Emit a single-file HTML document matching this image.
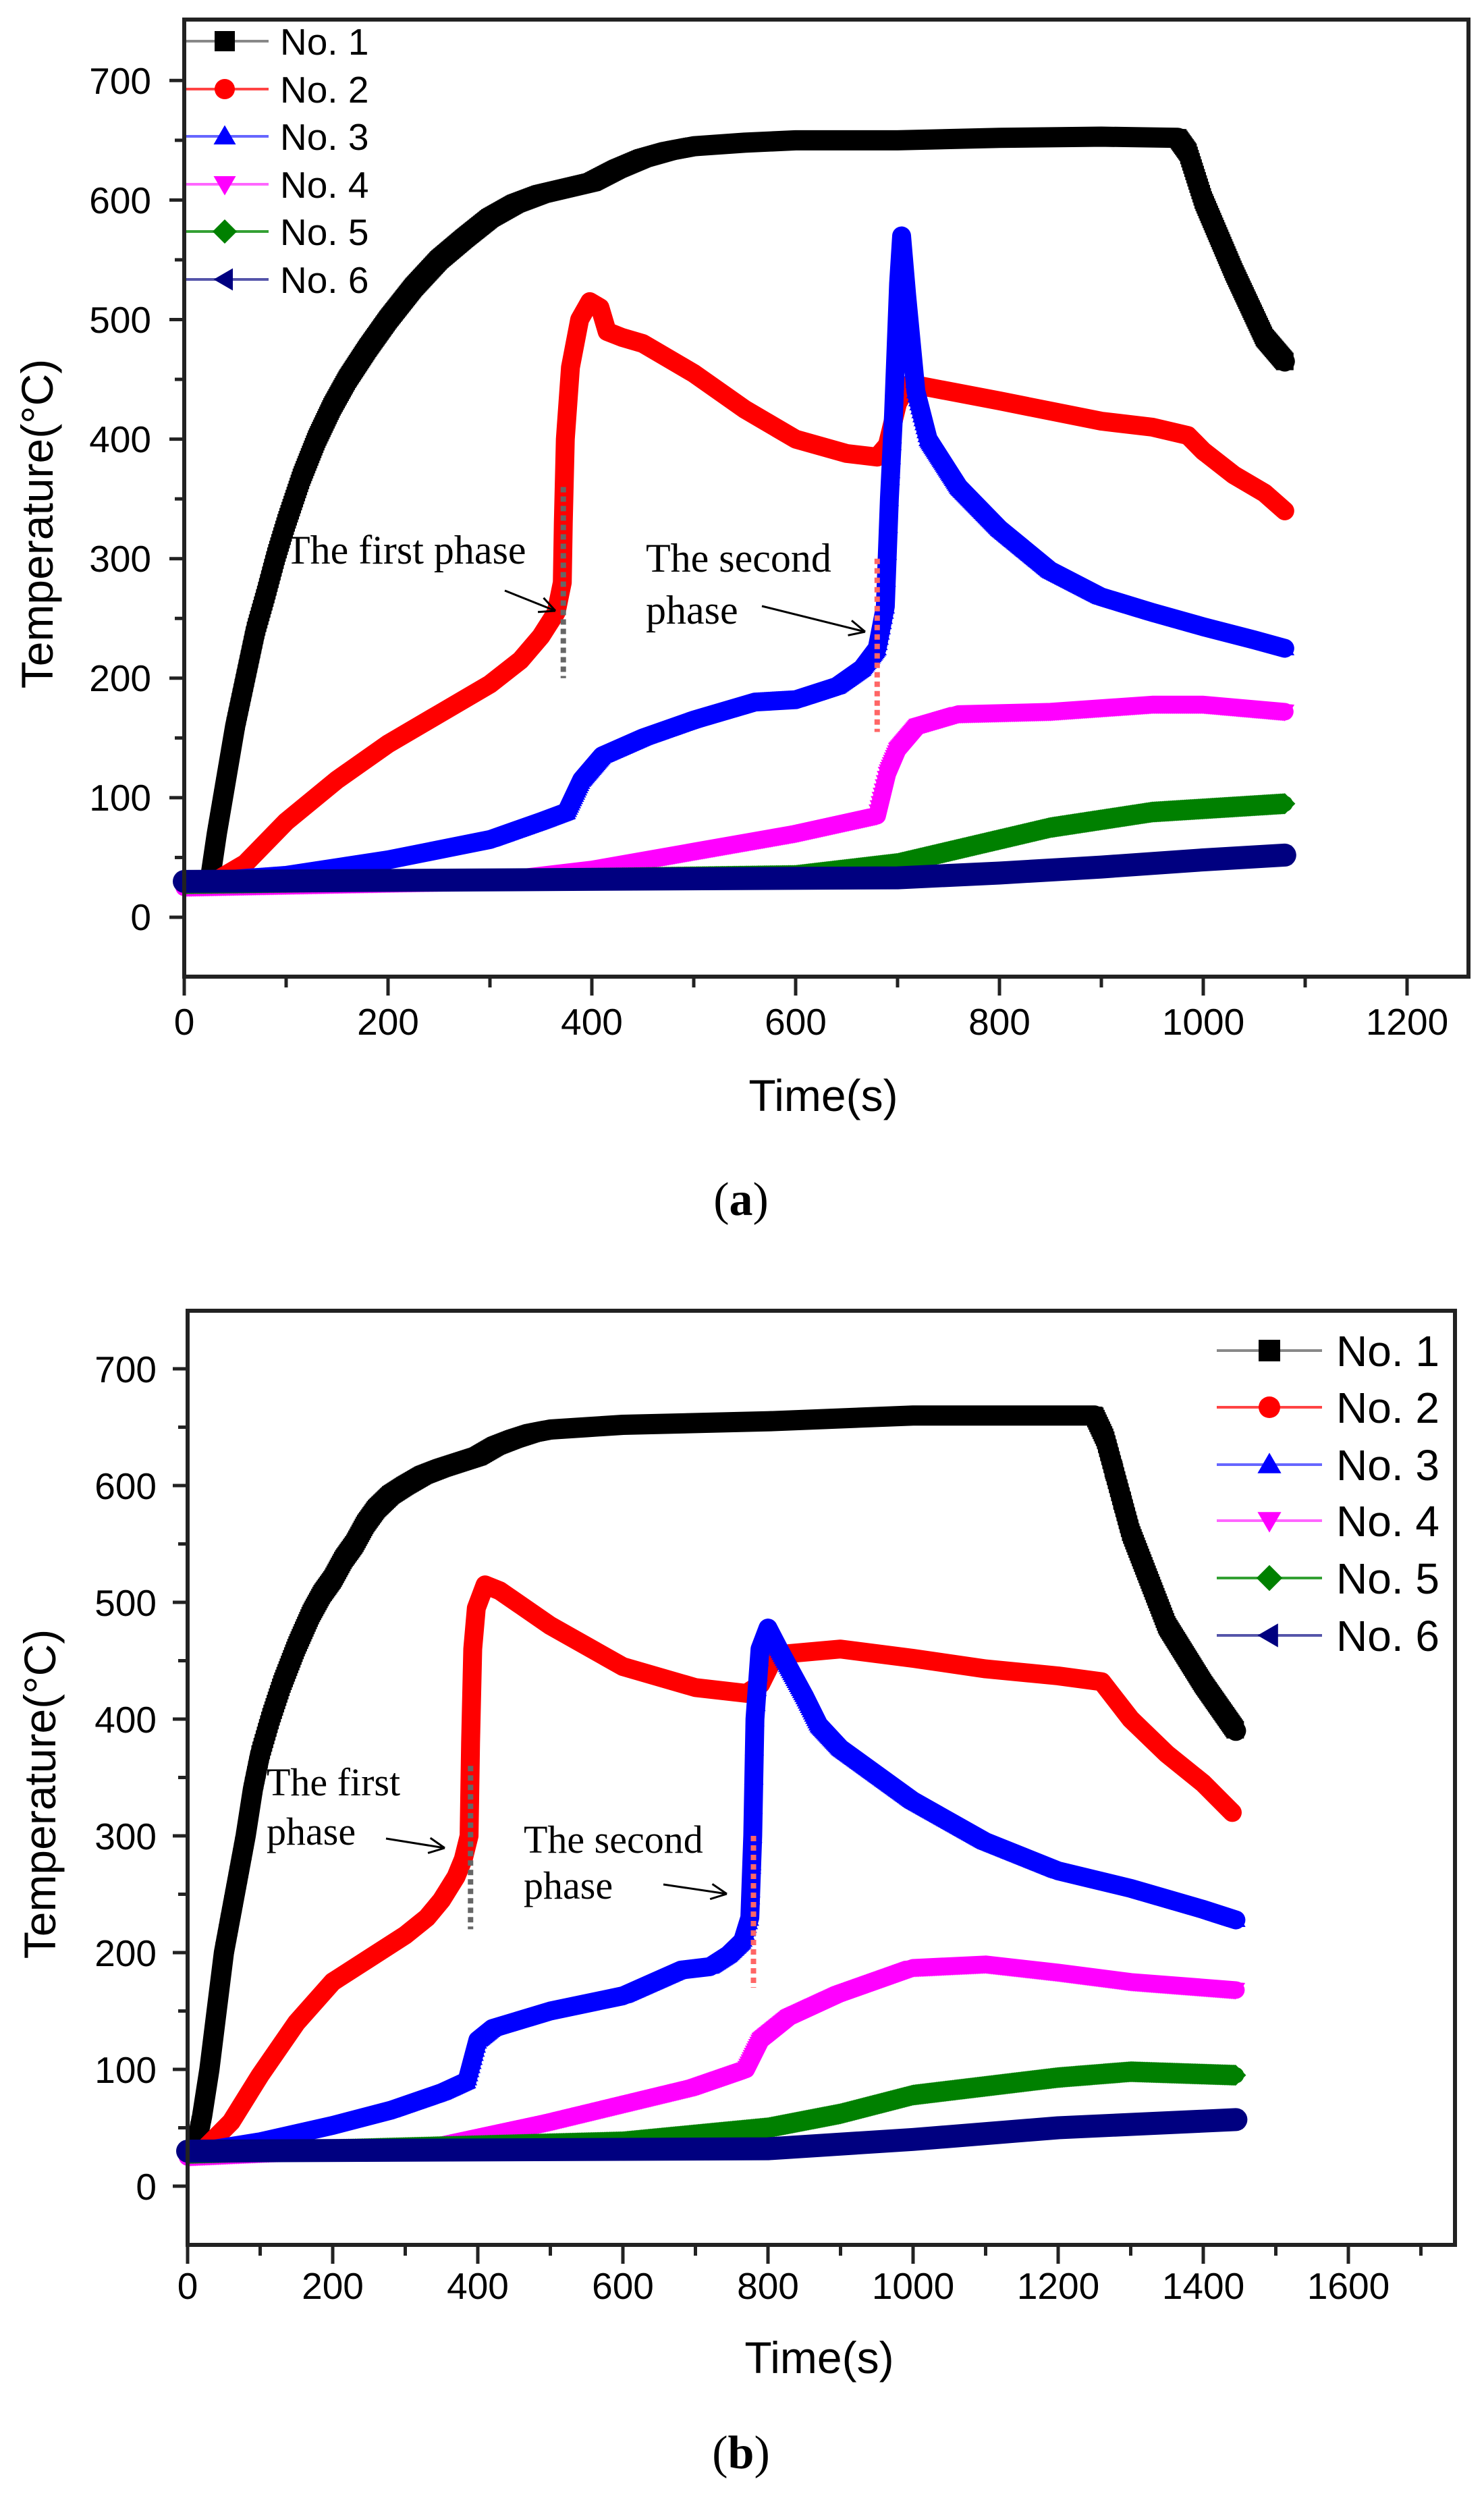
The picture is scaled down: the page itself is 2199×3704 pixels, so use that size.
<!DOCTYPE html>
<html><head><meta charset="utf-8">
<style>
html,body{margin:0;padding:0;background:#fff;}
svg{display:block;}
text{font-family:"Liberation Sans",Arial,sans-serif;fill:#000;}
.ser{font-family:"Liberation Serif","Times New Roman",serif;}
</style></head>
<body>
<svg id="s" width="2199" height="3704" viewBox="0 0 2199 3704" xmlns="http://www.w3.org/2000/svg">
<g id="plots"></g>
<rect x="273" y="29" width="1903" height="1418" fill="none" stroke="#222" stroke-width="6"/>
<g id="ta"></g>
<g font-size="55" text-anchor="end">
<text x="224" y="139">700</text><text x="224" y="316">600</text><text x="224" y="493">500</text>
<text x="224" y="670">400</text><text x="224" y="847">300</text><text x="224" y="1024">200</text>
<text x="224" y="1201">100</text><text x="224" y="1378">0</text>
</g>
<g font-size="55" text-anchor="middle">
<text x="273" y="1533">0</text><text x="575" y="1533">200</text><text x="877" y="1533">400</text>
<text x="1179" y="1533">600</text><text x="1481" y="1533">800</text><text x="1783" y="1533">1000</text>
<text x="2085" y="1533">1200</text>
</g>
<text x="1220" y="1646" font-size="66" text-anchor="middle">Time(s)</text>
<text transform="translate(78,776) rotate(-90)" font-size="66" text-anchor="middle">Temperature(°C)</text>
<text class="ser" x="1098" y="1800" font-size="70" text-anchor="middle">(<tspan font-weight="bold">a</tspan>)</text>
<g font-size="55">
<text x="415" y="81">No. 1</text><text x="415" y="152">No. 2</text><text x="415" y="222">No. 3</text>
<text x="415" y="293">No. 4</text><text x="415" y="363">No. 5</text><text x="415" y="434">No. 6</text>
</g>
<g class="ser" font-size="60">
<text class="ser" x="423" y="835">The  first phase</text>
<text class="ser" x="957" y="847">The  second</text>
<text class="ser" x="957" y="924">phase</text>
</g>

<rect x="278" y="1942" width="1878" height="1384" fill="none" stroke="#222" stroke-width="6"/>
<g id="tb"></g>
<g font-size="55" text-anchor="end">
<text x="232" y="2048">700</text><text x="232" y="2221">600</text><text x="232" y="2394">500</text>
<text x="232" y="2567">400</text><text x="232" y="2740">300</text><text x="232" y="2913">200</text>
<text x="232" y="3086">100</text><text x="232" y="3259">0</text>
</g>
<g font-size="55" text-anchor="middle">
<text x="278" y="3406">0</text><text x="493" y="3406">200</text><text x="708" y="3406">400</text>
<text x="923" y="3406">600</text><text x="1138" y="3406">800</text><text x="1353" y="3406">1000</text>
<text x="1568" y="3406">1200</text><text x="1783" y="3406">1400</text><text x="1998" y="3406">1600</text>
</g>
<text x="1214" y="3516" font-size="66" text-anchor="middle">Time(s)</text>
<text transform="translate(82,2658) rotate(-90)" font-size="66" text-anchor="middle">Temperature(°C)</text>
<text class="ser" x="1098" y="3657" font-size="70" text-anchor="middle">(<tspan font-weight="bold">b</tspan>)</text>
<g font-size="64">
<text x="1980" y="2024">No. 1</text><text x="1980" y="2108">No. 2</text><text x="1980" y="2193">No. 3</text>
<text x="1980" y="2276">No. 4</text><text x="1980" y="2361">No. 5</text><text x="1980" y="2446">No. 6</text>
</g>
<text class="ser" x="395" y="2660" font-size="58">The  first</text>
<text class="ser" x="395" y="2733" font-size="58">phase</text>
<text class="ser" x="776" y="2745" font-size="58">The  second</text>
<text class="ser" x="776" y="2813" font-size="58">phase</text>
</svg>
<script>
(function(){
var NS="http://www.w3.org/2000/svg";
var plots=document.getElementById('plots');
function el(tag,attrs,parent){var e=document.createElementNS(NS,tag);for(var k in attrs)e.setAttribute(k,attrs[k]);(parent||plots).appendChild(e);return e;}
var cols=["#000000","#ff0000","#0000ff","#ff00ff","#008000","#000080"];
var lcols=["#888888","#ff4444","#6666ff","#ff66ff","#33a033","#5555aa"];
function marker(type,x,y,s,c,g){
 var h=s/2,p;
 if(type==0)return el('rect',{x:x-h,y:y-h,width:s,height:s,fill:c},g);
 if(type==1)return el('circle',{cx:x,cy:y,r:h,fill:c},g);
 if(type==2)p=[[x,y-h*1.1],[x+h*1.1,y+h*0.8],[x-h*1.1,y+h*0.8]];
 if(type==3)p=[[x,y+h*1.1],[x+h*1.1,y-h*0.8],[x-h*1.1,y-h*0.8]];
 if(type==4)p=[[x,y-h*1.2],[x+h*1.2,y],[x,y+h*1.2],[x-h*1.2,y]];
 if(type==5)p=[[x-h*1.1,y],[x+h*0.8,y-h*1.1],[x+h*0.8,y+h*1.1]];
 return el('polygon',{points:p.map(function(q){return q.join(',')}).join(' '),fill:c},g);
}
function interp(d,t){for(var i=0;i<d.length-1;i++){if(t>=d[i][0]&&t<=d[i+1][0]){var f=(t-d[i][0])/((d[i+1][0]-d[i][0])||1);return d[i][1]+f*(d[i+1][1]-d[i][1]);}}return null;}
function chart(cfg){
 var g=el('g',{});
 function X(t){return cfg.x0+t*cfg.sx;} function Y(T){return cfg.y0-T*cfg.sy;}
 cfg.series.forEach(function(d,i){
  var pts=d.map(function(p){return X(p[0]).toFixed(1)+','+Y(p[1]).toFixed(1)}).join(' ');
  el('polyline',{points:pts,fill:'none',stroke:cols[i],'stroke-width':cfg.w[i],'stroke-linejoin':'round','stroke-linecap':'round'},g);
  var t0=d[0][0],t1=d[d.length-1][0];
  for(var t=t0;t<=t1;t+=cfg.dt){var v=interp(d,t);if(v!==null)marker(i,X(t),Y(v),cfg.ms,cols[i],g);}
  for(var k=0;k<d.length-1;k++){
   var dy=Math.abs(Y(d[k+1][1])-Y(d[k][1]));var dx=Math.abs(X(d[k+1][0])-X(d[k][0]));
   if(dy>dx*3){var n=Math.floor(dy/(cfg.ms*1.5));for(var j=1;j<n;j++){var f=j/n;marker(i,X(d[k][0]+f*(d[k+1][0]-d[k][0])),Y(d[k][1]+f*(d[k+1][1]-d[k][1])),cfg.ms,cols[i],g);}}
  }
 });
 cfg.dots.forEach(function(v){el('line',{x1:X(v[0]),x2:X(v[0]),y1:Y(v[1]),y2:Y(v[2]),stroke:v[3],'stroke-width':8,'stroke-dasharray':'8,6'},g);});
 cfg.arrows.forEach(function(a){
  el('line',{x1:a[0],y1:a[1],x2:a[2],y2:a[3],stroke:'#000','stroke-width':3},g);
  var ang=Math.atan2(a[3]-a[1],a[2]-a[0]),L=26;
  [0.45,-0.45].forEach(function(o){el('line',{x1:a[2],y1:a[3],x2:a[2]-L*Math.cos(ang+o),y2:a[3]-L*Math.sin(ang+o),stroke:'#000','stroke-width':3},g);});
 });
 var tg=document.getElementById(cfg.tick);
 for(var v=-50;v<=750;v+=50){var y=Y(v);if(y<cfg.top+4||y>cfg.bot-4)continue;var L=(v%100==0)?22:14;
   el('line',{x1:cfg.x0-L,x2:cfg.x0,y1:y,y2:y,stroke:'#222','stroke-width':5},tg);}
 for(var t=0;t<=cfg.tmax;t+=100){var x=X(t);if(x>cfg.right)continue;var L=(t%200==0)?28:16;
   el('line',{x1:x,x2:x,y1:cfg.bot,y2:cfg.bot+L,stroke:'#222','stroke-width':5},tg);}
 cfg.leg.ys.forEach(function(y,i){
  el('line',{x1:cfg.leg.x1,x2:cfg.leg.x2,y1:y,y2:y,stroke:lcols[i],'stroke-width':4},g);
  marker(i,cfg.leg.xm,y,cfg.leg.ms,cols[i],g);
 });
}
chart({x0:273,sx:1.51,y0:1359,sy:1.771,top:29,bot:1447,right:2176,tmax:1300,dt:1,ms:26,
 w:[30,28,28,26,24,34],tick:'ta',
 series:[
 [[25,30],[32,70],[40,110],[50,160],[60,200],[70,240],[80,270],[90,302],[100,330],[115,368],[130,400],[145,427],[160,450],[180,476],[200,500],[225,527],[250,550],[275,568],[300,585],[325,597],[350,605],[375,610],[400,615],[425,626],[450,635],[475,641],[500,645],[550,648],[600,650],[700,650],[800,652],[900,653],[975,652],[985,640],[1000,600],[1030,540],[1060,485],[1080,465]],
 [[30,30],[60,45],[100,80],[150,115],[200,145],[250,170],[300,195],[330,215],[350,235],[365,255],[371,280],[372,330],[374,400],[379,460],[388,500],[398,515],[408,510],[415,490],[430,485],[450,480],[500,455],[550,425],[600,400],[650,388],[680,385],[690,395],[700,430],[710,445],[720,445],[800,432],[900,415],[950,410],[985,403],[1000,390],[1030,370],[1060,355],[1080,340]],
 [[20,30],[100,35],[200,48],[300,65],[350,80],[375,88],[390,115],[410,135],[450,150],[500,165],[560,180],[600,182],[640,193],[665,208],[680,225],[688,260],[692,350],[696,420],[701,530],[704,570],[709,520],[718,440],[730,400],[760,360],[800,325],[850,290],[900,268],[950,255],[1000,243],[1050,232],[1080,225]],
 [[0,25],[300,30],[400,40],[500,55],[600,70],[680,85],[690,120],[700,140],[720,160],[760,170],[850,172],[950,178],[1000,178],[1080,172]],
 [[0,28],[600,35],[700,45],[750,55],[850,75],[950,88],[1080,95]],
 [[0,30],[700,33],[800,37],[900,42],[1000,48],[1080,52]]],
 dots:[[372,360,200,'#666'],[680,300,155,'#ff6666']],
 arrows:[[748,875,823,905],[1129,898,1282,936]],
 leg:{x1:276,x2:398,xm:333,ms:30,ys:[61,132,202,273,343,414]}
});
chart({x0:278,sx:1.075,y0:3239,sy:1.73,top:1942,bot:3326,right:2156,tmax:1700,dt:1.5,ms:26,
 w:[30,28,28,26,24,34],tick:'tb',
 series:[
 [[10,30],[20,60],[30,100],[40,150],[50,200],[65,250],[80,300],[90,340],[100,370],[115,402],[130,430],[150,462],[170,490],[185,507],[200,520],[215,537],[230,550],[245,567],[260,580],[280,592],[300,600],[325,609],[350,615],[375,620],[400,625],[425,634],[450,640],[475,645],[500,648],[550,650],[600,652],[800,655],[1000,660],[1250,660],[1265,640],[1300,560],[1350,480],[1400,430],[1445,390]],
 [[20,30],[60,55],[100,95],[150,140],[200,175],[250,195],[300,215],[330,230],[350,245],[370,265],[380,280],[388,300],[390,380],[393,460],[398,495],[410,515],[430,510],[500,480],[600,445],[700,427],[770,422],[790,430],[810,455],[900,460],[1000,452],[1100,443],[1200,437],[1260,432],[1300,400],[1350,370],[1400,345],[1440,320]],
 [[20,30],[100,38],[200,52],[280,65],[350,80],[385,90],[400,125],[420,135],[500,150],[600,163],[680,185],[720,188],[745,198],[765,210],[775,230],[779,300],[782,400],[789,460],[800,478],[815,460],[850,420],[870,395],[900,375],[1000,330],[1100,295],[1200,270],[1300,255],[1400,237],[1445,228]],
 [[0,25],[350,35],[500,55],[700,85],[770,100],[790,125],[830,145],[900,165],[1000,187],[1100,190],[1200,183],[1300,175],[1445,168]],
 [[0,28],[600,38],[800,50],[900,62],[1000,78],[1200,93],[1300,98],[1445,95]],
 [[0,30],[800,32],[1000,40],[1200,50],[1445,57]]],
 dots:[[390,360,220,'#666'],[780,300,170,'#ff6666']],
 arrows:[[572,2724,659,2738],[983,2792,1077,2806]],
 leg:{x1:1803,x2:1959,xm:1881,ms:32,ys:[2001,2085,2170,2253,2338,2423]}
});
})();
</script>
</body></html>
